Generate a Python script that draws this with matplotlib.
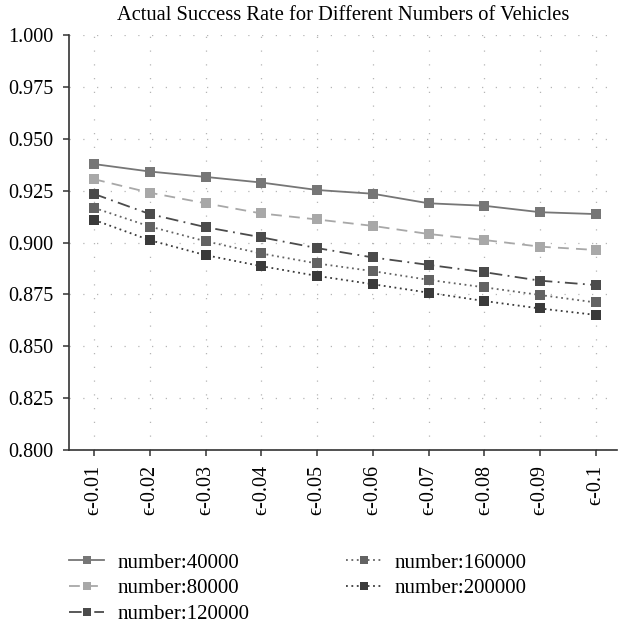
import matplotlib
matplotlib.use('Agg')
import matplotlib.pyplot as plt

plt.rcParams['font.family'] = ['Liberation Serif', 'DejaVu Serif']

categories = ['ϵ-0.01', 'ϵ-0.02', 'ϵ-0.03', 'ϵ-0.04', 'ϵ-0.05',
              'ϵ-0.06', 'ϵ-0.07', 'ϵ-0.08', 'ϵ-0.09', 'ϵ-0.1']

n40000 = [0.9378, 0.9342, 0.9316, 0.9289, 0.9253, 0.9235, 0.9189, 0.9177, 0.9146, 0.9137]
n80000 = [0.9305, 0.9240, 0.9189, 0.9140, 0.9111, 0.9080, 0.9041, 0.9012, 0.8980, 0.8964]
n120000 = [0.9234, 0.9137, 0.9074, 0.9025, 0.8973, 0.8928, 0.8892, 0.8857, 0.8816, 0.8795]
n160000 = [0.9167, 0.9077, 0.9006, 0.8947, 0.8899, 0.8862, 0.8820, 0.8784, 0.8747, 0.8711]
n200000 = [0.9109, 0.9011, 0.8939, 0.8886, 0.8839, 0.8799, 0.8758, 0.8718, 0.8682, 0.8651]

labels = ['number:40000', 'number:80000', 'number:120000', 'number:160000', 'number:200000']
series = [n40000, n80000, n120000, n160000, n200000]
colors = ['#767676', '#a8a8a8', '#4b4b4b', '#636363', '#3a3a3a']
styles = ['-', (0, (6, 4)), (0, (7, 3, 1, 3)), (0, (1, 2)), (0, (1, 2))]

fig = plt.figure(figsize=(6.19, 6.26), dpi=100)
ax = fig.add_axes([69 / 619, 1 - 450 / 626, 548 / 619, 415 / 626])

x = list(range(len(categories)))
for vals, lab, c, ls in zip(series, labels, colors, styles):
    ax.plot(x, vals, color=c, linestyle=ls, linewidth=1.3, marker='s',
            markersize=6.5, markeredgewidth=0, label=lab)

ax.set_xlim(-0.45, 9.38)
ax.set_ylim(0.8, 1.0)
ax.set_yticks([0.8 + 0.025 * i for i in range(9)])
ax.set_yticklabels(['%.3f' % (0.8 + 0.025 * i) for i in range(9)])
ax.set_xticks(x)
ax.set_xticklabels(categories, rotation=90)

ax.grid(True, color='#b5b5b5', linestyle=(0, (1, 10)), linewidth=0.9)
ax.set_axisbelow(True)
for s in ['top', 'right']:
    ax.spines[s].set_visible(False)
for s in ['left', 'bottom']:
    ax.spines[s].set_color('#333333')
    ax.spines[s].set_linewidth(1.2)
ax.tick_params(axis='y', length=4, width=1.1, color='#333333', labelsize=14.5, pad=7)
ax.tick_params(axis='x', length=4, width=1.1, color='#333333', labelsize=14.5, pad=7)

ax.set_title('Actual Success Rate for Different Numbers of Vehicles', fontsize=14.8, pad=11)

fig.legend(loc='upper left', bbox_to_anchor=(69 / 619, 1 - 553 / 626), ncol=2,
           frameon=False, fontsize=15, handlelength=1.7, handletextpad=0.65,
           columnspacing=4.6, labelspacing=0.3, borderpad=0, borderaxespad=0,
           markerscale=0.85)

fig.savefig('out.png', dpi=100)
